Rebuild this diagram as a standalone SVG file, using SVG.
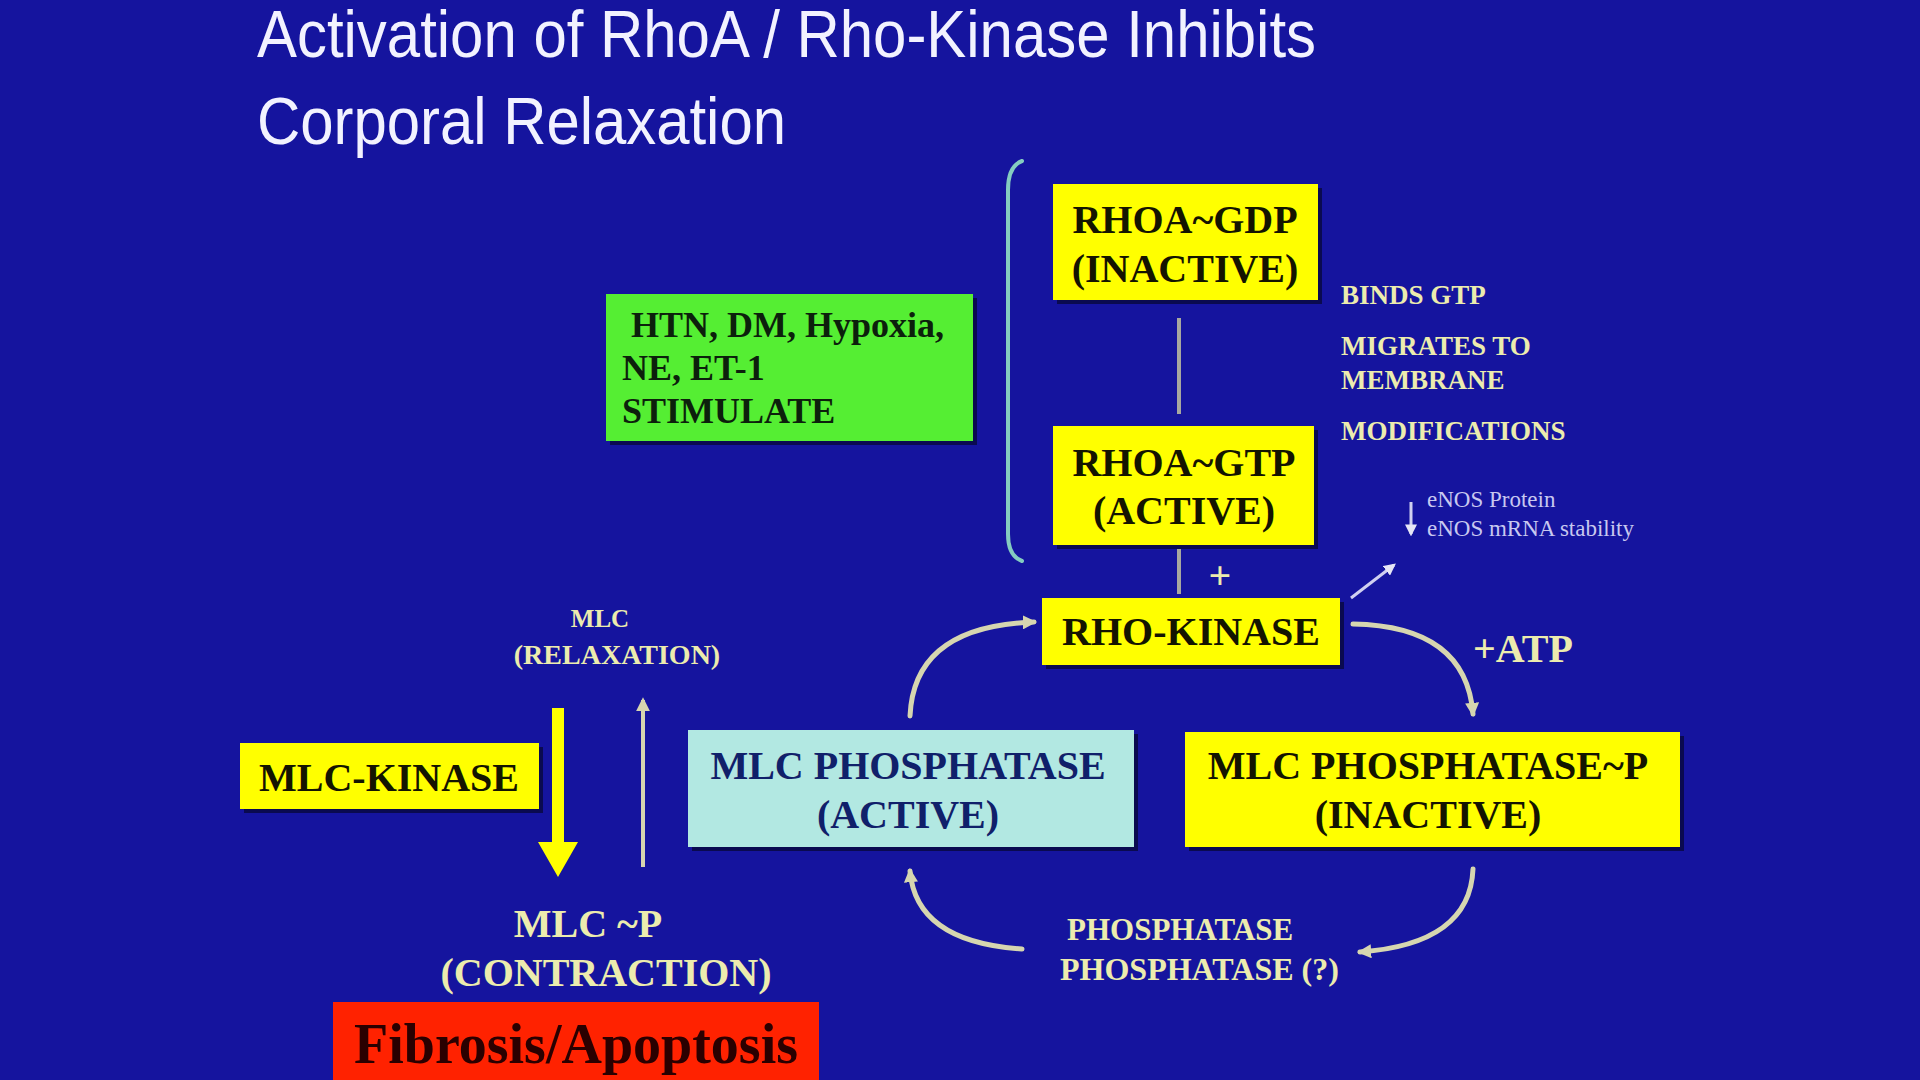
<svg xmlns="http://www.w3.org/2000/svg" width="1920" height="1080" viewBox="0 0 1920 1080">
<defs>
<style>
.title{font-family:"Liberation Sans",Arial,sans-serif;fill:#f2f2ff;font-size:66px}
.bx{font-family:"Liberation Serif","Times New Roman",serif;font-weight:bold;font-size:40px;fill:#141400;text-anchor:middle}
.lbl{font-family:"Liberation Serif","Times New Roman",serif;font-weight:bold;fill:#ececae}
.small{font-family:"Liberation Serif","Times New Roman",serif;fill:#c8c8f0;font-size:23px}
.yel{fill:#ffff00}
.sh{fill:#0a0a50}
.con{fill:none;stroke:#d6d6b0;stroke-width:5;stroke-linecap:round}
</style>
<marker id="ah" viewBox="0 0 10 10" refX="8" refY="5" markerWidth="14" markerHeight="14" markerUnits="userSpaceOnUse" orient="auto">
<path d="M0,0 L10,5 L0,10 z" fill="#d6d6b0"/>
</marker>
<marker id="ahw" viewBox="0 0 10 10" refX="8" refY="5" markerWidth="12" markerHeight="12" markerUnits="userSpaceOnUse" orient="auto">
<path d="M0,0 L10,5 L0,10 z" fill="#e6e6f6"/>
</marker>
</defs>
<rect width="1920" height="1080" fill="#15149e"/>

<g id="title">
<text class="title" x="257" y="57" textLength="1059" lengthAdjust="spacingAndGlyphs">Activation of RhoA / Rho-Kinase Inhibits</text>
<text class="title" x="257" y="144" textLength="529" lengthAdjust="spacingAndGlyphs">Corporal Relaxation</text>
</g>

<g id="connectors">
<path d="M1022,161 Q1008,166 1008,190 L1008,534 Q1008,556 1022,561" fill="none" stroke="#84ccc0" stroke-width="4" stroke-linecap="round"/>
<line x1="1179" y1="318" x2="1179" y2="414" stroke="#a8a8a0" stroke-width="4"/>
<line x1="1179" y1="547" x2="1179" y2="594" stroke="#a8a8a0" stroke-width="4"/>
<path class="con" d="M1353,624 Q1466,626 1473,714" marker-end="url(#ah)"/>
<path class="con" d="M910,716 Q914,626 1034,622" marker-end="url(#ah)"/>
<path class="con" d="M1022,949 Q916,942 910,871" marker-end="url(#ah)"/>
<path class="con" d="M1473,869 Q1470,944 1360,952" marker-end="url(#ah)"/>
<line x1="1351" y1="598" x2="1394" y2="565" stroke="#d0d0f0" stroke-width="3" marker-end="url(#ahw)"/>
<line x1="1411" y1="502" x2="1411" y2="534" stroke="#d0d0f0" stroke-width="3" marker-end="url(#ahw)"/>
<line x1="643" y1="867" x2="643" y2="700" stroke="#d6d6b0" stroke-width="4" marker-end="url(#ah)"/>
<path d="M552,708 L564,708 L564,842 L578,842 L558,877 L538,842 L552,842 z" fill="#ffff00"/>
</g>

<g id="stimulate">
<rect x="610" y="298" width="367" height="147" class="sh"/>
<rect x="606" y="294" width="367" height="147" fill="#55ee33"/>
<text x="631" y="337" font-family="Liberation Serif, Times New Roman, serif" font-weight="bold" font-size="36" fill="#0c200c">HTN, DM, Hypoxia,</text>
<text x="622" y="380" font-family="Liberation Serif, Times New Roman, serif" font-weight="bold" font-size="36" fill="#0c200c">NE, ET-1</text>
<text x="622" y="423" font-family="Liberation Serif, Times New Roman, serif" font-weight="bold" font-size="36" fill="#0c200c">STIMULATE</text>
</g>

<g id="rhoa-gdp">
<rect x="1057" y="188" width="265" height="116" class="sh"/>
<rect x="1053" y="184" width="265" height="116" class="yel"/>
<text class="bx" x="1185" y="233">RHOA~GDP</text>
<text class="bx" x="1185" y="282">(INACTIVE)</text>
</g>

<g id="rhoa-labels">
<text class="lbl" x="1341" y="304" font-size="27">BINDS GTP</text>
<text class="lbl" x="1341" y="355" font-size="27">MIGRATES TO</text>
<text class="lbl" x="1341" y="389" font-size="27">MEMBRANE</text>
<text class="lbl" x="1341" y="440" font-size="27">MODIFICATIONS</text>
</g>

<g id="rhoa-gtp">
<rect x="1057" y="430" width="261" height="119" class="sh"/>
<rect x="1053" y="426" width="261" height="119" class="yel"/>
<text class="bx" x="1184" y="476">RHOA~GTP</text>
<text class="bx" x="1184" y="524">(ACTIVE)</text>
</g>

<g id="enos">
<text class="small" x="1427" y="507">eNOS Protein</text>
<text class="small" x="1427" y="536">eNOS mRNA stability</text>
</g>

<g id="plus">
<text class="lbl" x="1220" y="589" font-size="40" text-anchor="middle">+</text>
</g>

<g id="rho-kinase">
<rect x="1046" y="602" width="298" height="67" class="sh"/>
<rect x="1042" y="598" width="298" height="67" class="yel"/>
<text class="bx" x="1191" y="645">RHO-KINASE</text>
</g>

<g id="atp">
<text class="lbl" x="1473" y="662" font-size="40">+ATP</text>
</g>

<g id="mlc-phosphatase">
<rect x="692" y="734" width="446" height="117" class="sh"/>
<rect x="688" y="730" width="446" height="117" fill="#b2e8e2"/>
<text class="bx" x="908" y="779" style="fill:#10206a">MLC PHOSPHATASE</text>
<text class="bx" x="908" y="828" style="fill:#10206a">(ACTIVE)</text>
</g>

<g id="mlc-phosphatase-p">
<rect x="1189" y="736" width="495" height="115" class="sh"/>
<rect x="1185" y="732" width="495" height="115" class="yel"/>
<text class="bx" x="1428" y="779">MLC PHOSPHATASE~P</text>
<text class="bx" x="1428" y="828">(INACTIVE)</text>
</g>

<g id="phosphatase-label">
<text class="lbl" x="1067" y="940" font-size="31">PHOSPHATASE</text>
<text class="lbl" x="1060" y="980" font-size="32">PHOSPHATASE (?)</text>
</g>

<g id="mlc-kinase">
<rect x="244" y="747" width="299" height="66" class="sh"/>
<rect x="240" y="743" width="299" height="66" class="yel"/>
<text class="bx" x="389" y="791">MLC-KINASE</text>
</g>

<g id="mlc-relax">
<text class="lbl" x="600" y="627" font-size="25" text-anchor="middle">MLC</text>
<text class="lbl" x="617" y="664" font-size="28" text-anchor="middle">(RELAXATION)</text>
</g>

<g id="mlc-p">
<text class="lbl" x="588" y="937" font-size="40" text-anchor="middle">MLC ~P</text>
<text class="lbl" x="606" y="986" font-size="40" text-anchor="middle">(CONTRACTION)</text>
</g>

<g id="fibrosis">
<rect x="333" y="1002" width="486" height="90" fill="#ff2200"/>
<text x="576" y="1063" font-family="Liberation Serif, Times New Roman, serif" font-weight="bold" font-size="56" fill="#2a0000" text-anchor="middle">Fibrosis/Apoptosis</text>
</g>
</svg>
